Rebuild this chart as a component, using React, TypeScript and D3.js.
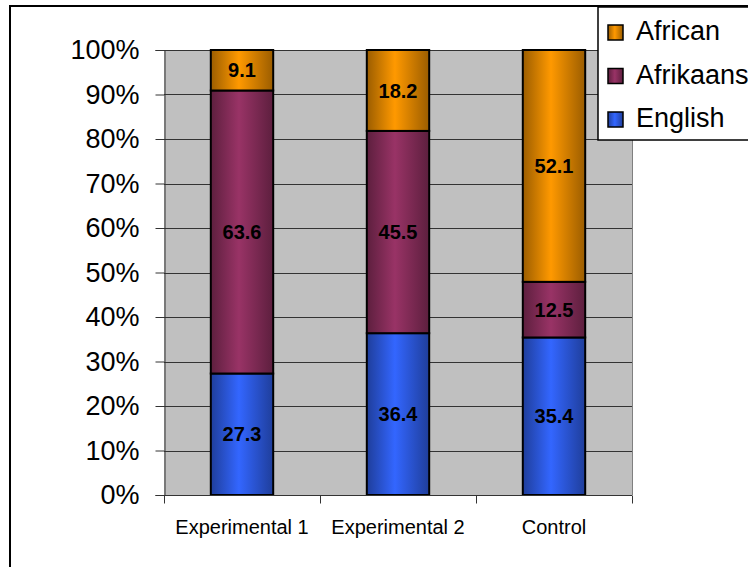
import { useEffect, useRef } from "react";
import * as d3 from "d3";

const categories = ["Experimental 1", "Experimental 2", "Control"];
const seriesNames = ["English", "Afrikaans", "African"];
const english = [27.3, 36.4, 35.4];
const afrikaans = [63.6, 45.5, 12.5];
const african = [9.1, 18.2, 52.1];
const yTicks = [0, 0.1, 0.2, 0.3, 0.4, 0.5, 0.6, 0.7, 0.8, 0.9, 1];
const legendOrder = ["African", "Afrikaans", "English"];

const colors: Record<string, string> = {
  English: "#3366FF",
  Afrikaans: "#993366",
  African: "#FF9900",
};

const FONT = "Arial, 'Liberation Sans', sans-serif";

export default function App() {
  const svgRef = useRef<SVGSVGElement>(null);

  useEffect(() => {
    if (!svgRef.current) return;
    const width = 748;
    const height = 567;
    const margin = { top: 50, right: 116, bottom: 72, left: 164 };

    const svg = d3.select(svgRef.current);
    svg.selectAll("*").remove();

    const rows = categories.map((c, i) => ({
      category: c,
      English: english[i],
      Afrikaans: afrikaans[i],
      African: african[i],
    }));

    // gradients: dark edges, bright centre
    const defs = svg.append("defs");
    seriesNames.forEach((name) => {
      const base = d3.color(colors[name])!;
      const grad = defs
        .append("linearGradient")
        .attr("id", `grad-${name}`)
        .attr("x1", "0%")
        .attr("x2", "100%");
      grad.append("stop").attr("offset", "0%").attr("stop-color", base.darker(1.4).toString());
      grad.append("stop").attr("offset", "45%").attr("stop-color", base.toString());
      grad.append("stop").attr("offset", "100%").attr("stop-color", base.darker(1.4).toString());
    });

    // outer chart border
    svg
      .append("rect")
      .attr("x", 10)
      .attr("y", 6)
      .attr("width", 760)
      .attr("height", 580)
      .style("fill", "white")
      .style("stroke", "black")
      .style("stroke-width", 2);

    const x = d3
      .scaleBand()
      .domain(categories)
      .range([margin.left, width - margin.right]);

    const y = d3
      .scaleLinear()
      .domain([0, 1])
      .range([height - margin.bottom, margin.top]);

    const stack = d3
      .stack<any>()
      .keys(seriesNames)
      .offset(d3.stackOffsetExpand);
    const stacked = stack(rows);

    // plot background
    svg
      .append("rect")
      .attr("x", margin.left)
      .attr("y", margin.top)
      .attr("width", width - margin.left - margin.right)
      .attr("height", height - margin.top - margin.bottom)
      .style("fill", "#C0C0C0");

    // gridlines
    svg
      .append("g")
      .selectAll("line")
      .data(yTicks.slice(1))
      .enter()
      .append("line")
      .attr("x1", margin.left)
      .attr("x2", width - margin.right)
      .attr("y1", (d) => Math.round(y(d)) + 0.5)
      .attr("y2", (d) => Math.round(y(d)) + 0.5)
      .style("stroke", "#333")
      .style("stroke-width", 1);

    // right edge of plot area
    svg
      .append("line")
      .attr("x1", width - margin.right + 0.5)
      .attr("x2", width - margin.right + 0.5)
      .attr("y1", margin.top)
      .attr("y2", height - margin.bottom)
      .style("stroke", "#808080");

    // bars
    const barW = x.bandwidth() * 0.4;
    stacked.forEach((layer) => {
      const name = layer.key;
      layer.forEach((d, i) => {
        const cx = x(categories[i])! + x.bandwidth() / 2;
        const y0 = y(d[0]);
        const y1 = y(d[1]);
        svg
          .append("rect")
          .attr("x", cx - barW / 2)
          .attr("y", y1)
          .attr("width", barW)
          .attr("height", y0 - y1)
          .style("fill", `url(#grad-${name})`)
          .style("stroke", "black")
          .style("stroke-width", 2);
        const value = (rows[i] as any)[name] as number;
        svg
          .append("text")
          .attr("x", cx)
          .attr("y", (y0 + y1) / 2)
          .attr("dy", "0.36em")
          .attr("text-anchor", "middle")
          .style("font-family", FONT)
          .style("font-size", "20px")
          .style("font-weight", "bold")
          .style("fill", "black")
          .text(value.toFixed(1));
      });
    });

    // y axis
    const yAxis = d3
      .axisLeft(y)
      .tickValues(yTicks)
      .tickSize(9)
      .tickPadding(16)
      .tickFormat(d3.format(".0%"));
    const gy = svg
      .append("g")
      .attr("transform", `translate(${margin.left + 0.5},0)`)
      .call(yAxis);
    gy.select(".domain").style("stroke", "#333");
    gy.selectAll(".tick line").style("stroke", "#333");
    gy.selectAll("text")
      .style("font-family", FONT)
      .style("font-size", "27px")
      .style("fill", "black");

    // x axis
    const xLinear = d3
      .scaleLinear()
      .domain([0, categories.length])
      .range([margin.left, width - margin.right]);
    const gx = svg
      .append("g")
      .attr("transform", `translate(0,${height - margin.bottom + 0.5})`);
    gx.append("line")
      .attr("x1", margin.left)
      .attr("x2", width - margin.right)
      .style("stroke", "#333");
    gx.selectAll(".tk")
      .data(d3.range(categories.length + 1))
      .enter()
      .append("line")
      .attr("x1", (d) => Math.round(xLinear(d)) + 0.5)
      .attr("x2", (d) => Math.round(xLinear(d)) + 0.5)
      .attr("y1", 0)
      .attr("y2", 8)
      .style("stroke", "#333");
    gx.selectAll("text")
      .data(categories)
      .enter()
      .append("text")
      .attr("x", (d) => x(d)! + x.bandwidth() / 2)
      .attr("y", 38)
      .attr("text-anchor", "middle")
      .style("font-family", FONT)
      .style("font-size", "20px")
      .style("fill", "black")
      .text((d) => d);

    // legend
    const legend = svg.append("g").attr("transform", "translate(598,7)");
    legend
      .append("rect")
      .attr("x", 0)
      .attr("y", 0)
      .attr("width", 170)
      .attr("height", 133)
      .style("fill", "white")
      .style("stroke", "black")
      .style("stroke-width", 1.5);
    legendOrder.forEach((name, i) => {
      const base = 33 + i * 43.5;
      legend
        .append("rect")
        .attr("x", 10)
        .attr("y", base - 15)
        .attr("width", 15)
        .attr("height", 15)
        .style("fill", `url(#grad-${name})`)
        .style("stroke", "black")
        .style("stroke-width", 1.5);
      legend
        .append("text")
        .attr("x", 38)
        .attr("y", base)
        .style("font-family", FONT)
        .style("font-size", "27px")
        .style("fill", "black")
        .text(name);
    });
  }, []);

  return (
    <div style={{ position: "absolute", left: 0, top: 0, width: 748, height: 567, overflow: "hidden" }}>
      <svg ref={svgRef} width={748} height={567} style={{ display: "block" }} />
    </div>
  );
}
